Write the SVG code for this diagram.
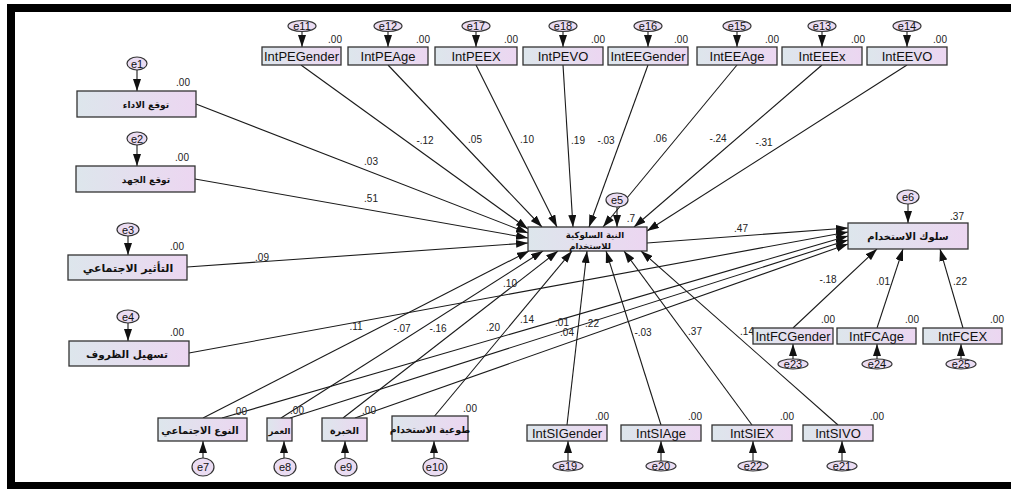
<svg xmlns="http://www.w3.org/2000/svg" width="1011" height="489" viewBox="0 0 1011 489">
<defs>
<linearGradient id="g" x1="0" y1="0" x2="1" y2="0">
<stop offset="0" stop-color="#dde6ec"/>
<stop offset="1" stop-color="#ecd6f1"/>
</linearGradient>
<marker id="ah" viewBox="0 0 12 8" refX="12" refY="4" markerWidth="12" markerHeight="8" markerUnits="userSpaceOnUse" orient="auto">
<path d="M0,0 L12,4 L0,8 z" fill="#111"/>
</marker>
<style>
.box{fill:url(#g);stroke:#333;stroke-width:1.3}
.el{fill:#eadcf2;stroke:#333;stroke-width:1.2}
.lt{font-family:"Liberation Sans",Arial,sans-serif;font-size:13px;fill:#111;text-anchor:middle}
.ar{font-family:"DejaVu Sans",sans-serif;font-size:10px;font-weight:bold;fill:#111;text-anchor:middle}
.et{font-family:"Liberation Sans",Arial,sans-serif;font-size:11px;fill:#111;text-anchor:middle}
.n{font-family:"Liberation Sans",Arial,sans-serif;font-size:10px;fill:#222;text-anchor:middle}
.c line{stroke:#1a1a1a;stroke-width:1.1;marker-end:url(#ah)}
</style>
</defs>
<rect width="1011" height="489" fill="#fff"/>
<g id="frame" fill="#000">
<rect x="7" y="4" width="1004" height="8"/>
<rect x="7" y="4" width="8" height="485"/>
<rect x="7" y="482" width="1004" height="7"/>
</g>

<g class="c" id="connectors">
<line x1="301" y1="65" x2="528" y2="229"/>
<line x1="388" y1="65" x2="542" y2="227"/>
<line x1="476" y1="65" x2="557" y2="227"/>
<line x1="563" y1="65" x2="573" y2="227"/>
<line x1="648" y1="65" x2="589" y2="227"/>
<line x1="737" y1="65" x2="603" y2="227"/>
<line x1="822" y1="65" x2="634" y2="227"/>
<line x1="907" y1="65" x2="647" y2="231"/>
<line x1="196" y1="104" x2="528" y2="233"/>
<line x1="195" y1="179" x2="528" y2="238"/>
<line x1="187" y1="267" x2="528" y2="243"/>
<line x1="189" y1="353" x2="848" y2="232"/>
<line x1="203" y1="418" x2="529" y2="251"/>
<line x1="281" y1="418" x2="543" y2="251"/>
<line x1="343" y1="418" x2="558" y2="251"/>
<line x1="433" y1="418" x2="572" y2="251"/>
<line x1="222" y1="418" x2="848" y2="236"/>
<line x1="290" y1="418" x2="848" y2="240"/>
<line x1="355" y1="418" x2="848" y2="244"/>
<line x1="567" y1="425" x2="587" y2="251"/>
<line x1="661" y1="425" x2="606" y2="251"/>
<line x1="752" y1="425" x2="624" y2="251"/>
<line x1="838" y1="425" x2="641" y2="251"/>
<line x1="647" y1="243" x2="848" y2="228"/>
<line x1="793" y1="328" x2="877" y2="249"/>
<line x1="877" y1="328" x2="903" y2="249"/>
<line x1="963" y1="328" x2="940" y2="249"/>
<line x1="302" y1="31" x2="302" y2="47"/>
<line x1="388" y1="31" x2="388" y2="47"/>
<line x1="476" y1="31" x2="476" y2="47"/>
<line x1="563" y1="31" x2="563" y2="47"/>
<line x1="648" y1="31" x2="648" y2="47"/>
<line x1="737" y1="31" x2="737" y2="47"/>
<line x1="822" y1="31" x2="822" y2="47"/>
<line x1="907" y1="31" x2="907" y2="47"/>
<line x1="137" y1="70" x2="137" y2="91"/>
<line x1="137" y1="145" x2="137" y2="166"/>
<line x1="128" y1="236" x2="128" y2="255"/>
<line x1="128" y1="323" x2="128" y2="341"/>
<line x1="617" y1="207" x2="617" y2="227"/>
<line x1="908" y1="204" x2="908" y2="223"/>
<line x1="793" y1="359" x2="793" y2="344"/>
<line x1="877" y1="359" x2="877" y2="344"/>
<line x1="961" y1="359" x2="961" y2="344"/>
<line x1="203" y1="458" x2="203" y2="441"/>
<line x1="284" y1="458" x2="284" y2="441"/>
<line x1="345" y1="458" x2="345" y2="441"/>
<line x1="434" y1="458" x2="434" y2="441"/>
<line x1="568" y1="461" x2="568" y2="441"/>
<line x1="661" y1="461" x2="661" y2="441"/>
<line x1="753" y1="461" x2="753" y2="441"/>
<line x1="842" y1="461" x2="842" y2="441"/>
</g>

<g id="path-labels">
<text class="n" x="425" y="144">-.12</text>
<text class="n" x="475" y="143">.05</text>
<text class="n" x="527" y="143">.10</text>
<text class="n" x="578" y="144">.19</text>
<text class="n" x="606" y="144">-.03</text>
<text class="n" x="660" y="142">.06</text>
<text class="n" x="718" y="142">-.24</text>
<text class="n" x="764" y="146">-.31</text>
<text class="n" x="371" y="165">.03</text>
<text class="n" x="371" y="202">.51</text>
<text class="n" x="262" y="261">.09</text>
<text class="n" x="741" y="232">.47</text>
<text class="n" x="510" y="287">.10</text>
<text class="n" x="356" y="330">.11</text>
<text class="n" x="402" y="332">-.07</text>
<text class="n" x="438" y="332">-.16</text>
<text class="n" x="493" y="331">.20</text>
<text class="n" x="527" y="323">.14</text>
<text class="n" x="562" y="326">.01</text>
<text class="n" x="567" y="336">.04</text>
<text class="n" x="592" y="327">.22</text>
<text class="n" x="643" y="336">-.03</text>
<text class="n" x="695" y="335">.37</text>
<text class="n" x="747" y="335">.14</text>
<text class="n" x="828" y="283">-.18</text>
<text class="n" x="883" y="285">.01</text>
<text class="n" x="960" y="285">.22</text>
</g>

<g id="IntPEGender"><ellipse class="el" cx="302" cy="26" rx="14" ry="5.5"/><text class="et" x="302" y="30">e11</text><rect class="box" x="262" y="47" width="79" height="18"/><text class="lt" x="301.5" y="61">IntPEGender</text><text class="n" x="335" y="43">.00</text></g>
<g id="IntPEAge"><ellipse class="el" cx="388" cy="26" rx="14" ry="5.5"/><text class="et" x="388" y="30">e12</text><rect class="box" x="348" y="47" width="80" height="18"/><text class="lt" x="388" y="61">IntPEAge</text><text class="n" x="423" y="43">.00</text></g>
<g id="IntPEEX"><ellipse class="el" cx="476" cy="26" rx="14" ry="5.5"/><text class="et" x="476" y="30">e17</text><rect class="box" x="435" y="47" width="82" height="18"/><text class="lt" x="476" y="61">IntPEEX</text><text class="n" x="511" y="43">.00</text></g>
<g id="IntPEVO"><ellipse class="el" cx="563" cy="26" rx="14" ry="5.5"/><text class="et" x="563" y="30">e18</text><rect class="box" x="523" y="47" width="80" height="18"/><text class="lt" x="563" y="61">IntPEVO</text><text class="n" x="598" y="43">.00</text></g>
<g id="IntEEGender"><ellipse class="el" cx="648" cy="26" rx="14" ry="5.5"/><text class="et" x="648" y="30">e16</text><rect class="box" x="608" y="47" width="80" height="18"/><text class="lt" x="648" y="61">IntEEGender</text><text class="n" x="681" y="43">.00</text></g>
<g id="IntEEAge"><ellipse class="el" cx="737" cy="26" rx="14" ry="5.5"/><text class="et" x="737" y="30">e15</text><rect class="box" x="697" y="47" width="80" height="18"/><text class="lt" x="737" y="61">IntEEAge</text><text class="n" x="772" y="43">.00</text></g>
<g id="IntEEEx"><ellipse class="el" cx="822" cy="26" rx="14" ry="5.5"/><text class="et" x="822" y="30">e13</text><rect class="box" x="782" y="47" width="80" height="18"/><text class="lt" x="822" y="61">IntEEEx</text><text class="n" x="858" y="43">.00</text></g>
<g id="IntEEVO"><ellipse class="el" cx="907" cy="26" rx="14" ry="5.5"/><text class="et" x="907" y="30">e14</text><rect class="box" x="867" y="47" width="80" height="18"/><text class="lt" x="907" y="61">IntEEVO</text><text class="n" x="940" y="43">.00</text></g>

<g id="PE"><ellipse class="el" cx="137" cy="63.5" rx="10" ry="6.5"/><text class="et" x="137" y="67.5">e1</text><rect class="box" x="77" y="91" width="119" height="26"/><text class="ar" x="146" y="108" style="font-size:9px">توقع الاداء</text><text class="n" x="183" y="86">.00</text></g>
<g id="EE"><ellipse class="el" cx="137" cy="138.5" rx="10" ry="6.5"/><text class="et" x="137" y="142.5">e2</text><rect class="box" x="76" y="166" width="119" height="26"/><text class="ar" x="146" y="183" style="font-size:9px">توقع الجهد</text><text class="n" x="182" y="161">.00</text></g>
<g id="SI"><ellipse class="el" cx="128" cy="229.5" rx="11" ry="6.5"/><text class="et" x="128" y="233.5">e3</text><rect class="box" x="68" y="255" width="119" height="25"/><text class="ar" x="128" y="271.5" style="font-size:11px">التأثير الاجتماعي</text><text class="n" x="177" y="250">.00</text></g>
<g id="FC"><ellipse class="el" cx="128" cy="316.5" rx="11" ry="6.5"/><text class="et" x="128" y="320.5">e4</text><rect class="box" x="69" y="341" width="120" height="25"/><text class="ar" x="127" y="357.5" style="font-size:10.5px">تسهيل الظروف</text><text class="n" x="177" y="336">.00</text></g>

<g id="BI"><ellipse class="el" cx="617" cy="200" rx="11" ry="7"/><text class="et" x="617" y="204">e5</text><rect class="box" x="528" y="227" width="119" height="24"/><text class="ar" x="595" y="237.5" style="font-size:8.5px">النية السلوكية</text><text class="ar" x="590" y="248.5" style="font-size:8.5px">للاستخدام</text><text class="n" x="631" y="222">.7</text></g>

<g id="UB"><ellipse class="el" cx="908" cy="197" rx="11" ry="7"/><text class="et" x="908" y="201">e6</text><rect class="box" x="848" y="223" width="120" height="26"/><text class="ar" x="908" y="240">سلوك الاستخدام</text><text class="n" x="957" y="220">.37</text></g>

<g id="IntFCGender"><rect class="box" x="753" y="328" width="80" height="16"/><text class="lt" x="793" y="341">IntFCGender</text><text class="n" x="828" y="323">.00</text><ellipse class="el" cx="793" cy="364" rx="15" ry="5"/><text class="et" x="793" y="368">e23</text></g>
<g id="IntFCAge"><rect class="box" x="837" y="328" width="79" height="16"/><text class="lt" x="876.5" y="341">IntFCAge</text><text class="n" x="912" y="323">.00</text><ellipse class="el" cx="877" cy="364" rx="15" ry="5"/><text class="et" x="877" y="368">e24</text></g>
<g id="IntFCEX"><rect class="box" x="923" y="328" width="79" height="16"/><text class="lt" x="962.5" y="341">IntFCEX</text><text class="n" x="997" y="323">.00</text><ellipse class="el" cx="961" cy="364" rx="15" ry="5"/><text class="et" x="961" y="368">e25</text></g>

<g id="Gender"><rect class="box" x="158" y="418" width="89" height="23"/><text class="ar" x="200" y="433.5">النوع الاجتماعي</text><text class="n" x="240" y="415">.00</text><ellipse class="el" cx="203" cy="467" rx="11" ry="9"/><text class="et" x="203" y="471">e7</text></g>
<g id="Age"><rect class="box" x="267" y="418" width="25" height="23"/><text class="ar" x="279.5" y="433.5" style="font-size:8.5px">العمر</text><text class="n" x="297" y="414">.00</text><ellipse class="el" cx="285" cy="467" rx="11" ry="9"/><text class="et" x="285" y="471">e8</text></g>
<g id="Exp"><rect class="box" x="322" y="418" width="45" height="23"/><text class="ar" x="344.5" y="433.5" style="font-size:9.5px">الخبرة</text><text class="n" x="369" y="414">.00</text><ellipse class="el" cx="346" cy="467" rx="11" ry="9"/><text class="et" x="346" y="471">e9</text></g>
<g id="Vol"><rect class="box" x="392" y="416" width="76" height="25"/><text class="ar" x="430" y="432.5" style="font-size:9.5px">طوعية الاستخدام</text><text class="n" x="470" y="412">.00</text><ellipse class="el" cx="435" cy="467" rx="12" ry="9"/><text class="et" x="435" y="471">e10</text></g>

<g id="IntSIGender"><rect class="box" x="527" y="425" width="80" height="16"/><text class="lt" x="567" y="438">IntSIGender</text><text class="n" x="602" y="420">.00</text><ellipse class="el" cx="568" cy="466" rx="15" ry="5"/><text class="et" x="568" y="470">e19</text></g>
<g id="IntSIAge"><rect class="box" x="621" y="425" width="80" height="16"/><text class="lt" x="661" y="438">IntSIAge</text><text class="n" x="695" y="420">.00</text><ellipse class="el" cx="661" cy="466" rx="15" ry="5"/><text class="et" x="661" y="470">e20</text></g>
<g id="IntSIEX"><rect class="box" x="712" y="425" width="80" height="16"/><text class="lt" x="752" y="438">IntSIEX</text><text class="n" x="787" y="420">.00</text><ellipse class="el" cx="753" cy="466" rx="15" ry="5"/><text class="et" x="753" y="470">e22</text></g>
<g id="IntSIVO"><rect class="box" x="803" y="425" width="70" height="16"/><text class="lt" x="838" y="438">IntSIVO</text><text class="n" x="877" y="420">.00</text><ellipse class="el" cx="842" cy="466" rx="15" ry="5"/><text class="et" x="842" y="470">e21</text></g>
</svg>
